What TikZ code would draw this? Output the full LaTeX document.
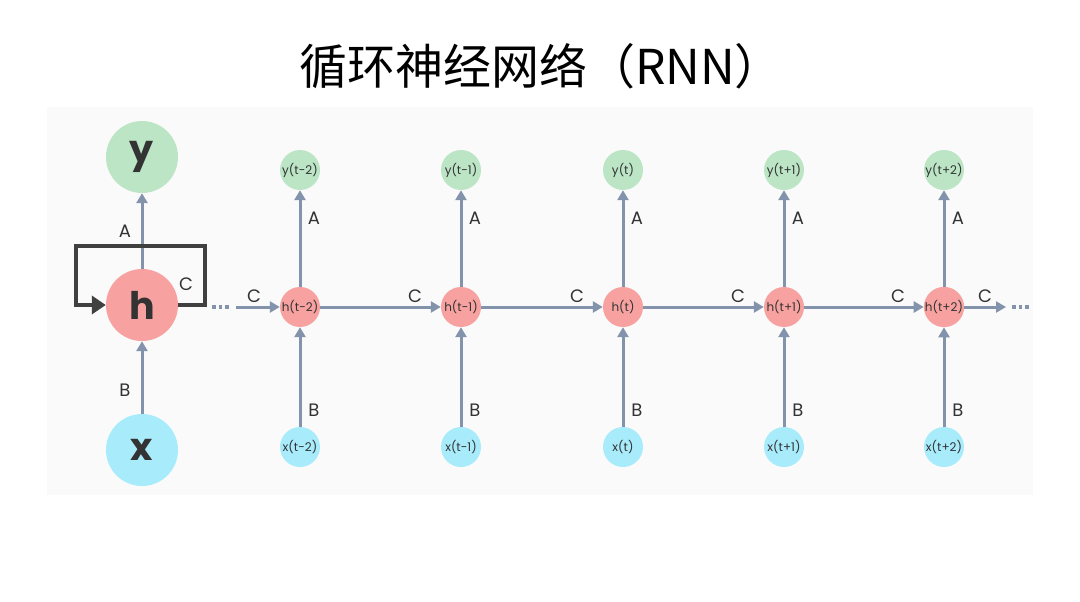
\documentclass[tikz,border=0pt]{standalone}
\usepackage{fontspec}
\setmainfont{Poppins}
\newfontfamily\cjk{Noto Sans CJK SC}
\usetikzlibrary{arrows.meta}
\definecolor{ygreen}{HTML}{BCE5C6}
\definecolor{hred}{HTML}{F7A2A0}
\definecolor{xcyan}{HTML}{A8ECFC}
\definecolor{arr}{HTML}{8293AB}
\definecolor{dark}{HTML}{404040}
\definecolor{panel}{HTML}{FAFAFA}
\definecolor{lbl}{HTML}{333333}
\begin{document}
\begin{tikzpicture}[x=1pt,y=-1pt,
  big/.style={circle,minimum size=72pt,inner sep=0pt,font=\fontsize{38}{38}\selectfont\bfseries,text=lbl},
  small/.style={circle,minimum size=40pt,inner sep=0pt,font=\fontsize{12}{12}\selectfont,text=lbl},
  ynode/.style={fill=ygreen},
  hnode/.style={fill=hred},
  xnode/.style={fill=xcyan},
  conn/.style={draw=arr,line width=3pt,-{Triangle[length=10pt,width=11pt]}},
  lab/.style={font=\fontsize{18}{18}\selectfont,text=lbl},
  dots/.style={draw=arr,line width=3.5pt,dash pattern=on 3.5pt off 3pt}
]
\useasboundingbox (0,0) rectangle (1080,602);
\fill[panel] (47,107) rectangle (1033,495);
\node[font=\cjk\fontsize{48}{48}\selectfont] (title) at (541,66) {循环神经网络（RNN）};

% folded
\node[big,ynode] (Y) at (142,157) {y};
\node[big,hnode] (H) at (142,305) {h};
\node[big,xnode] (X) at (142,450) {x};
\draw[conn] (H) -- (Y);
\draw[conn] (X) -- (H);
\node[lab] (LA) at (125,231) {A};
\node[lab] (LB) at (125,390) {B};
\node[lab] (LC) at (186,284) {C};
\coordinate (c1) at (205,246);
\coordinate (c2) at (76,246);
\draw[dark,line width=4pt,line join=miter,-{Triangle[length=14pt,width=18pt]}]
  (H.east) -- (205,305) -- (c1) -- (c2) -- (76,305) -- (H.west);

% unrolled
\foreach \i/\t/\xx in {1/t-2/300,2/t-1/461,3/t/623,4/t+1/784,5/t+2/944}{
  \node[small,ynode] (y\i) at (\xx,170) {y(\t)};
  \node[small,hnode] (h\i) at (\xx,307) {h(\t)};
  \node[small,xnode] (x\i) at (\xx,447) {x(\t)};
  \draw[conn] (h\i) -- (y\i);
  \draw[conn] (x\i) -- (h\i);
  \node[lab] (a\i) at (\xx+14,218) {A};
  \node[lab] (b\i) at (\xx+14,410) {B};
  \node[lab] (c\i) at (\xx-46,296) {C};
}
\draw[conn] (h1) -- (h2);
\draw[conn] (h2) -- (h3);
\draw[conn] (h3) -- (h4);
\draw[conn] (h4) -- (h5);
\coordinate (in0) at (236,307);
\draw[conn] (in0) -- (h1);
\draw[dots] (212,307) -- (230,307);
\node[lab] (c6) at (985,296) {C};
\coordinate (out0) at (1006,307);
\draw[conn] (h5) -- (out0);
\draw[dots] (1012,307) -- (1030,307);
\end{tikzpicture}
\end{document}
